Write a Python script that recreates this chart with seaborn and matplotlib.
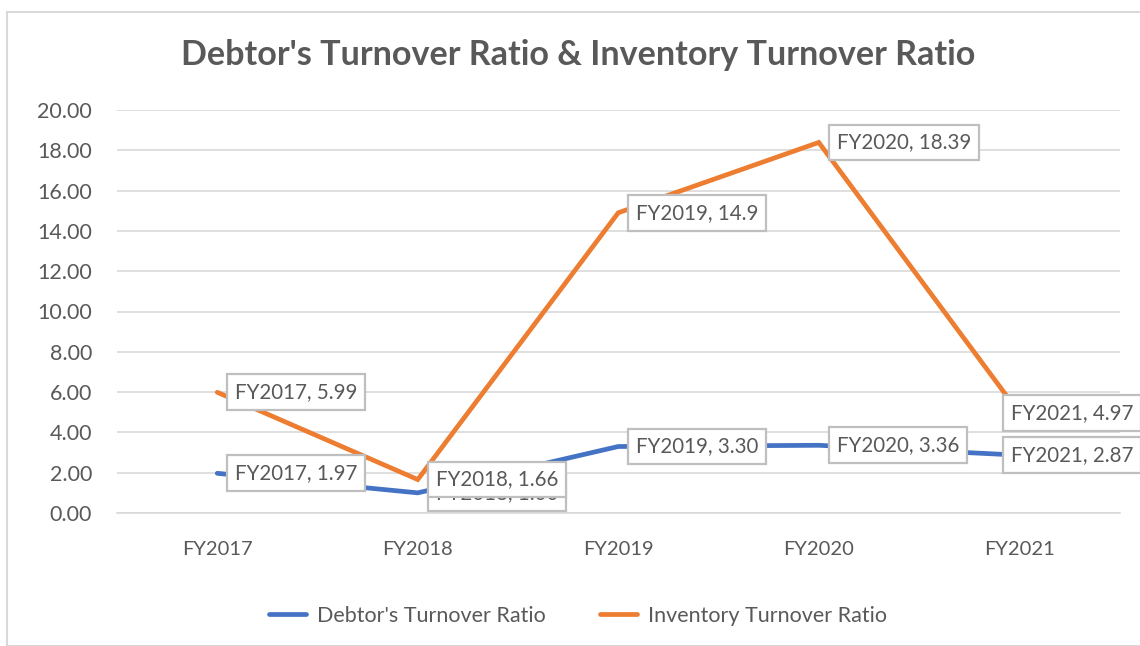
import matplotlib
matplotlib.use("Agg")
import matplotlib.pyplot as plt
import seaborn as sns
import pandas as pd
from matplotlib.patches import Rectangle
from matplotlib.lines import Line2D

years = ["FY2017", "FY2018", "FY2019", "FY2020", "FY2021"]
debtor = [1.97, 1.00, 3.30, 3.36, 2.87]
inventory = [5.99, 1.66, 14.9, 18.39, 4.97]
debtor_labels = ["1.97", "1.00", "3.30", "3.36", "2.87"]
inventory_labels = ["5.99", "1.66", "14.9", "18.39", "4.97"]
yticks = [0, 2, 4, 6, 8, 10, 12, 14, 16, 18, 20]
series_names = ["Debtor's Turnover Ratio", "Inventory Turnover Ratio"]
title = "Debtor's Turnover Ratio & Inventory Turnover Ratio"

sns.set_theme(style="white")
plt.rcParams['font.family'] = ['Lato', 'DejaVu Sans']
TXT = "#595959"
GRID = "#d9d9d9"
BLUE = "#4472C4"
ORANGE = "#ED7D31"

df = pd.DataFrame({
    "Year": years * 2,
    "Value": debtor + inventory,
    "Series": [series_names[0]] * len(years) + [series_names[1]] * len(years),
})

W, H = 1140, 646
fig = plt.figure(figsize=(W / 100, H / 100), dpi=100)
fig.patches.append(Rectangle((7 / W, 0), 2, (H - 12) / H, transform=fig.transFigure,
                             facecolor="none", edgecolor=GRID, linewidth=1.5, zorder=0))
ax = fig.add_axes([117 / W, 1 - 513 / H, (1119.5 - 117) / W, (513 - 110) / H])

sns.lineplot(data=df, x="Year", y="Value", hue="Series", palette=[BLUE, ORANGE],
             linewidth=3.4, ax=ax, legend=False, sort=False)
for ln in ax.lines:
    ln.set_solid_capstyle("round")
    ln.set_solid_joinstyle("miter")
    ln.set_zorder(3)

ax.set_xlim(-0.5, len(years) - 0.5)
ax.set_ylim(0, 20)
ax.set_yticks(yticks)
ax.set_yticklabels([f"{t:.2f}" for t in yticks])
ax.yaxis.grid(True, color=GRID, linewidth=1.2)
ax.xaxis.grid(False)
for s in ax.spines.values():
    s.set_visible(False)
ax.spines["bottom"].set_visible(True)
ax.spines["bottom"].set_color(GRID)
ax.spines["bottom"].set_linewidth(1.2)
ax.tick_params(axis="y", length=0, pad=18, labelsize=15.5, labelcolor=TXT)
ax.tick_params(axis="x", length=0, pad=20, labelsize=14.5, labelcolor=TXT)
ax.set_xlabel("")
ax.set_ylabel("")
ax.set_axisbelow(True)

bbox = dict(boxstyle="square,pad=0.38", facecolor="white", edgecolor="#bfbfbf", linewidth=1.6)

def label(i, v, s):
    dx = 13 if i < len(years) - 1 else -6
    ax.annotate(f"{years[i]}, {s}", xy=(i, v), xytext=(dx, 0), textcoords="offset points",
                ha="left", va="center", fontsize=14.8, color=TXT, bbox=bbox,
                zorder=5, annotation_clip=False)

for i, (v, s) in enumerate(zip(debtor, debtor_labels)):
    label(i, v, s)
for i, (v, s) in enumerate(zip(inventory, inventory_labels)):
    label(i, v, s)

fig.text(578 / W, 1 - 55 / H, title, ha="center", va="center", fontsize=24.6,
         fontweight="bold", color=TXT)

handles = [Line2D([0], [0], color=BLUE, lw=3.4, solid_capstyle="round"),
           Line2D([0], [0], color=ORANGE, lw=3.4, solid_capstyle="round")]
fig.legend(handles, series_names, loc="center", bbox_to_anchor=(578 / W, 1 - 616 / H),
           ncol=2, frameon=False, fontsize=15.5, labelcolor=TXT, handlelength=1.75,
           handletextpad=0.5, columnspacing=2.5)

fig.savefig("out.png", dpi=100)
